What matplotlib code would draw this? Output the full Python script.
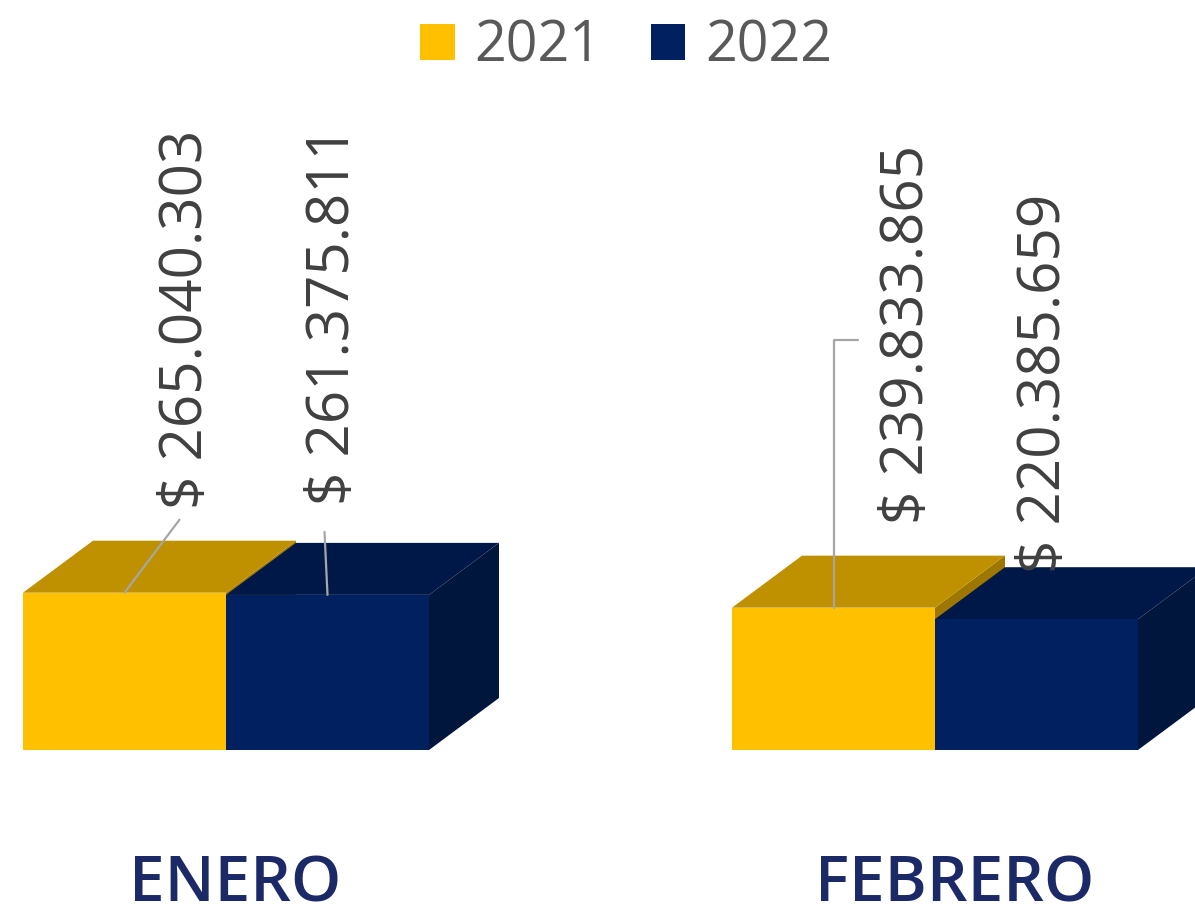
import numpy as np
import matplotlib
matplotlib.use("Agg")
import matplotlib.pyplot as plt
from matplotlib.patches import Polygon, Patch
from matplotlib import transforms

# datos
meses = ["ENERO", "FEBRERO"]
series = ["2021", "2022"]
v2021 = [265040303, 239833865]
v2022 = [261375811, 220385659]
etiquetas_2021 = ["$ 265.040.303", "$ 239.833.865"]
etiquetas_2022 = ["$ 261.375.811", "$ 220.385.659"]

# colores: frente, tapa, lado
c_amarillo = ("#FFC000", "#BF9000", "#9E7700")
c_azul = ("#002060", "#001848", "#00163C")

W, H = 1195, 918
fig = plt.figure(figsize=(W / 100, H / 100), dpi=100)
ax = fig.add_axes([0, 0, 1, 1])
ax.set_axis_off()

# escala: 1 categoria = 709 px, 1e6 pesos = 0.5935 px
px_x = 709.0
px_y = 0.5935e-6
x0_px, y0_px = 226.0, 750.0
ax.set_xlim(-x0_px / px_x, (W - x0_px) / px_x)
ax.set_ylim(-(H - y0_px) / px_y, y0_px / px_y)

x = np.arange(len(meses))
w = 203 / px_x          # ancho de barra
dx = 70 / px_x          # profundidad en x
dy = 52 / px_y          # profundidad en y


def caja(xc, v, colores, z, lado=True, frente=True):
    xl = xc - w / 2
    if frente:
        ax.bar(xc, v, width=w, color=colores[0], zorder=z + 0.2, linewidth=0)
        tapa = [(xl, v), (xl + w, v), (xl + w + dx, v + dy), (xl + dx, v + dy)]
        ax.add_patch(Polygon(tapa, closed=True, fc=colores[1], lw=0, zorder=z + 0.1))
    if lado:
        cara = [(xl + w, 0), (xl + w + dx, dy), (xl + w + dx, v + dy), (xl + w, v)]
        ax.add_patch(Polygon(cara, closed=True, fc=colores[2], lw=0, zorder=z))


for i in range(len(meses)):
    caja(x[i] - w / 2, v2021[i], c_amarillo, 1, lado=True, frente=False)
    caja(x[i] + w / 2, v2022[i], c_azul, 2)
    caja(x[i] - w / 2, v2021[i], c_amarillo, 3, lado=False)

# etiquetas de datos (desplazamientos en pixeles desde la tapa de cada barra)
fuente = ["Open Sans", "DejaVu Sans"]
txt_kw = dict(rotation=90, ha="center", va="bottom", fontsize=42,
              color="#404040", family=fuente, textcoords="offset pixels", zorder=6)
lin_kw = dict(arrowstyle="-", color="#A6A6A6", lw=1.6, shrinkA=0, shrinkB=0)

off_txt_2021 = [(62, 84), (74, 84)]
off_txt_2022 = [(6, 90), (8, 46)]
off_lin_2021 = [(55, 73), (24, 268)]
off_lin_2022 = [(-3, 63), None]
con_2021 = ["arc3", "angle,angleA=0,angleB=90,rad=0"]

for i in range(len(meses)):
    xa = x[i] - w / 2
    xb = x[i] + w / 2
    ax.annotate(etiquetas_2021[i], xy=(xa, v2021[i]), xytext=off_txt_2021[i], **txt_kw)
    ax.annotate(etiquetas_2022[i], xy=(xb, v2022[i]), xytext=off_txt_2022[i], **txt_kw)
    ax.annotate("", xy=(xa, v2021[i]), xytext=off_lin_2021[i], textcoords="offset pixels",
                arrowprops=dict(connectionstyle=con_2021[i], **lin_kw), zorder=5)
    if off_lin_2022[i] is not None:
        ax.annotate("", xy=(xb, v2022[i]), xytext=off_lin_2022[i], textcoords="offset pixels",
                    arrowprops=dict(connectionstyle="arc3", **lin_kw), zorder=5)

# nombres de mes
trans = transforms.blended_transform_factory(ax.transData, ax.transAxes)
off_mes = [9, 20]
for i, m in enumerate(meses):
    ax.annotate(m, xy=(x[i], 1 / H), xycoords=trans, xytext=(off_mes[i], 0),
                textcoords="offset pixels", ha="center", va="bottom",
                fontsize=46, fontweight="semibold", color="#1B2A66",
                family=["Open Sans", "DejaVu Sans"])

# leyenda
handles = [Patch(fc=c_amarillo[0], lw=0), Patch(fc=c_azul[0], lw=0)]
leg = ax.legend(handles, series, ncol=2, loc="center",
                bbox_to_anchor=(626 / W, 1 - 47 / H), bbox_transform=fig.transFigure,
                frameon=False, handlelength=0.62, handleheight=0.62,
                handletextpad=0.35, columnspacing=0.9, borderpad=0,
                prop={"family": fuente, "size": 40})
for t in leg.get_texts():
    t.set_color("#595959")

fig.savefig("out.png", dpi=100, facecolor="white")
